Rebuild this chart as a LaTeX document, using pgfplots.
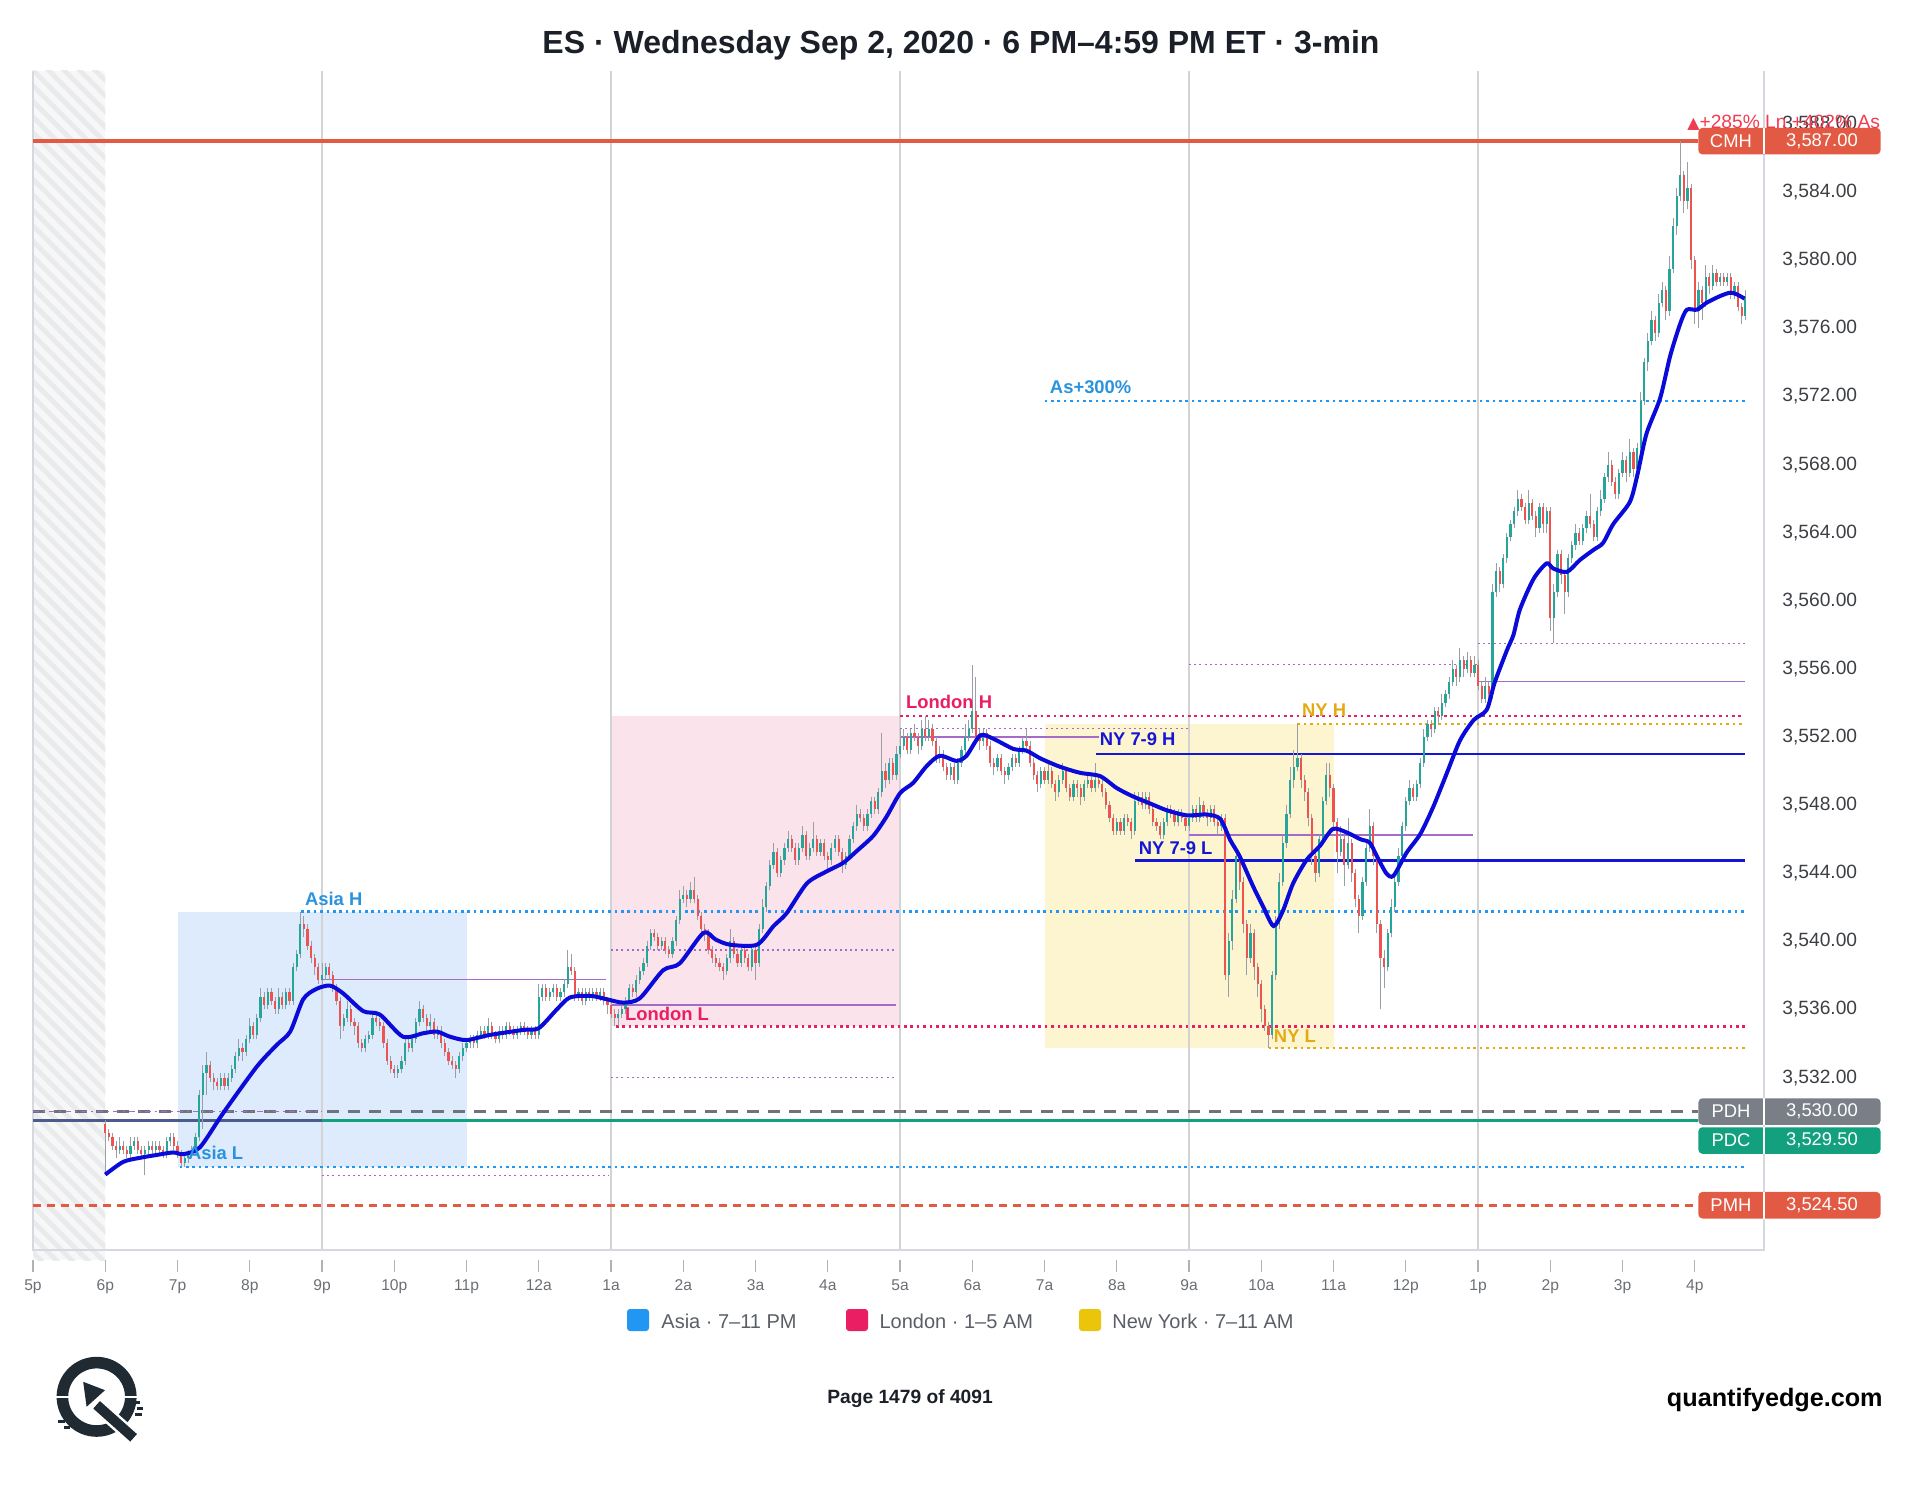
\documentclass[border=0pt]{standalone}
\usepackage{fontspec}
\setmainfont{Liberation Sans}
\newfontfamily\symfont{DejaVu Sans}
\usepackage{pgfplots}
\pgfplotsset{compat=1.18}
\usepackage{pgfplotstable}
\usetikzlibrary{patterns.meta}

\definecolor{titlec}{HTML}{1B1F27}
\definecolor{tickc}{HTML}{6B6F75}
\definecolor{ylabc}{HTML}{3C3F44}
\definecolor{frame}{HTML}{D5D8DE}
\definecolor{gridc}{HTML}{D3D3D3}
\definecolor{asiafill}{HTML}{DDEBFC}
\definecolor{londonfill}{HTML}{FBE3EC}
\definecolor{nyfill}{HTML}{FDF4D0}
\definecolor{asiablue}{HTML}{2196F3}
\definecolor{asiatext}{HTML}{2A93DD}
\definecolor{londonred}{HTML}{E91E63}
\definecolor{nygold}{HTML}{E3AA12}
\definecolor{nyblue}{HTML}{1515D6}
\definecolor{emablue}{HTML}{0B0BD9}
\definecolor{violet}{HTML}{A66BC8}
\definecolor{cmhred}{HTML}{E25A43}
\definecolor{pdhgray}{HTML}{6F737B}
\definecolor{pdhbadge}{HTML}{7A7E86}
\definecolor{pdcgreen}{HTML}{12A07E}
\definecolor{slate}{HTML}{4C5A8C}
\definecolor{upc}{HTML}{26A69A}
\definecolor{downc}{HTML}{EF5350}
\definecolor{wickc}{HTML}{9A9EA6}
\definecolor{alertred}{HTML}{F03C50}
\definecolor{logoc}{HTML}{1F2A33}
\definecolor{legtext}{HTML}{5A5E66}
\definecolor{hatchbg}{HTML}{F7F7F8}
\definecolor{hatchln}{HTML}{E9EAEC}

% 3-minute bars from 6 PM, columns: open high low close
\pgfplotstableread{
o h l c
3529.25 3529.5 3526.25 3528.75
3528.75 3529.0 3528.25 3528.5
3528.5 3528.75 3527.75 3528.0
3528.0 3528.25 3527.25 3527.75
3527.75 3528.5 3527.5 3528.0
3528.0 3528.25 3527.5 3527.75
3527.75 3528.0 3527.25 3527.5
3527.5 3528.5 3527.25 3528.0
3528.0 3528.5 3527.75 3528.25
3528.25 3528.5 3527.5 3527.75
3527.75 3528.0 3527.25 3527.5
3527.5 3528.0 3526.25 3527.75
3527.75 3528.25 3527.5 3528.0
3528.0 3528.25 3527.5 3527.75
3527.75 3528.25 3527.5 3528.0
3528.0 3528.25 3527.5 3527.75
3527.75 3528.0 3527.25 3527.5
3527.5 3528.5 3527.25 3528.25
3528.25 3528.75 3528.0 3528.5
3528.5 3528.75 3527.75 3528.0
3528.0 3528.25 3527.25 3527.5
3527.5 3527.75 3526.75 3527.0
3527.0 3527.5 3526.75 3527.25
3527.25 3527.75 3527.0 3527.5
3527.5 3528.0 3527.25 3527.75
3527.75 3528.75 3527.5 3528.5
3528.5 3531.25 3528.25 3531.0
3531.0 3532.75 3529.0 3532.25
3532.25 3533.5 3531.0 3532.75
3532.75 3533.0 3531.75 3532.0
3532.0 3532.25 3531.25 3531.75
3531.75 3532.0 3531.25 3531.5
3531.5 3532.25 3531.25 3532.0
3532.0 3532.25 3531.25 3531.5
3531.5 3532.25 3531.25 3532.0
3532.0 3532.75 3531.75 3532.5
3532.5 3533.5 3532.25 3533.25
3533.25 3534.25 3533.0 3533.75
3533.75 3534.0 3533.0 3533.5
3533.5 3534.5 3533.25 3534.25
3534.25 3535.5 3534.0 3535.0
3535.0 3535.25 3534.25 3534.5
3534.5 3535.75 3534.25 3535.5
3535.5 3537.25 3535.25 3536.75
3536.75 3537.0 3536.0 3536.25
3536.25 3537.25 3536.0 3537.0
3537.0 3537.25 3536.25 3536.5
3536.5 3536.75 3535.75 3536.0
3536.0 3537.25 3535.75 3536.75
3536.75 3537.0 3536.0 3536.25
3536.25 3537.25 3536.0 3537.0
3537.0 3537.25 3536.25 3536.5
3536.5 3538.75 3536.25 3538.5
3538.5 3539.5 3538.25 3539.25
3539.25 3541.75 3539.0 3541.0
3541.0 3541.5 3540.25 3540.75
3540.75 3541.0 3539.5 3539.75
3539.75 3540.0 3538.75 3539.0
3539.0 3539.25 3538.0 3538.5
3538.5 3538.75 3537.5 3537.75
3537.75 3538.75 3537.5 3538.0
3538.0 3538.75 3537.75 3538.5
3538.5 3538.75 3537.75 3538.0
3538.0 3538.25 3537.0 3537.25
3537.25 3537.5 3536.25 3536.5
3536.5 3536.75 3534.25 3535.0
3535.0 3535.75 3534.75 3535.5
3535.5 3536.5 3535.25 3536.0
3536.0 3536.25 3535.0 3535.25
3535.25 3535.5 3534.5 3535.0
3535.0 3535.25 3533.75 3534.0
3534.0 3534.25 3533.5 3533.75
3533.75 3534.5 3533.5 3534.25
3534.25 3534.75 3534.0 3534.5
3534.5 3535.75 3534.25 3535.5
3535.5 3535.75 3535.0 3535.25
3535.25 3535.5 3534.75 3535.0
3535.0 3535.25 3533.75 3534.0
3534.0 3534.25 3532.75 3533.0
3533.0 3533.25 3532.25 3532.5
3532.5 3532.75 3532.0 3532.25
3532.25 3532.75 3532.0 3532.5
3532.5 3533.25 3532.25 3533.0
3533.0 3534.25 3532.75 3534.0
3534.0 3534.25 3533.5 3533.75
3533.75 3534.5 3533.5 3534.25
3534.25 3535.5 3534.0 3535.25
3535.25 3536.5 3535.0 3536.0
3536.0 3536.25 3535.25 3535.5
3535.5 3535.75 3534.75 3535.0
3535.0 3535.75 3534.75 3535.25
3535.25 3535.5 3534.25 3534.5
3534.5 3535.0 3534.25 3534.75
3534.75 3535.0 3533.75 3534.0
3534.0 3534.25 3533.25 3533.5
3533.5 3533.75 3532.75 3533.0
3533.0 3533.25 3532.5 3532.75
3532.75 3533.0 3532.0 3532.5
3532.5 3533.5 3532.25 3533.25
3533.25 3534.0 3533.0 3533.75
3533.75 3534.25 3533.5 3534.0
3534.0 3534.5 3533.75 3534.25
3534.25 3534.5 3533.75 3534.0
3534.0 3534.75 3533.75 3534.5
3534.5 3535.0 3534.25 3534.75
3534.75 3535.0 3534.25 3534.5
3534.5 3535.5 3534.25 3535.0
3535.0 3535.25 3534.25 3534.5
3534.5 3534.75 3534.0 3534.25
3534.25 3535.0 3534.0 3534.75
3534.75 3535.0 3534.25 3534.5
3534.5 3535.25 3534.25 3535.0
3535.0 3535.25 3534.5 3534.75
3534.75 3535.0 3534.25 3534.5
3534.5 3535.0 3534.25 3534.75
3534.75 3535.25 3534.5 3535.0
3535.0 3535.25 3534.5 3534.75
3534.75 3535.0 3534.25 3534.5
3534.5 3535.0 3534.25 3534.75
3534.75 3535.0 3534.25 3534.5
3534.5 3537.5 3534.25 3536.75
3536.75 3537.5 3536.5 3537.25
3537.25 3537.5 3536.5 3536.75
3536.75 3537.25 3536.5 3537.0
3537.0 3537.5 3536.75 3537.25
3537.25 3537.5 3536.5 3536.75
3536.75 3537.25 3536.5 3537.0
3537.0 3537.75 3536.75 3537.5
3537.5 3539.5 3537.25 3538.5
3538.5 3539.25 3538.0 3538.25
3538.25 3538.5 3536.5 3536.75
3536.75 3537.25 3536.5 3537.0
3537.0 3537.25 3536.25 3536.5
3536.5 3537.25 3536.25 3537.0
3537.0 3537.25 3536.5 3536.75
3536.75 3537.25 3536.5 3537.0
3537.0 3537.25 3536.5 3536.75
3536.75 3537.25 3536.5 3537.0
3537.0 3537.25 3536.25 3536.5
3536.5 3536.75 3535.75 3536.25
3536.25 3536.5 3535.5 3535.75
3535.75 3536.0 3535.0 3535.5
3535.5 3536.0 3535.0 3535.75
3535.75 3536.25 3535.5 3536.0
3536.0 3536.75 3535.75 3536.5
3536.5 3537.5 3536.25 3537.25
3537.25 3537.5 3536.75 3537.0
3537.0 3538.0 3536.75 3537.75
3537.75 3538.5 3537.5 3538.25
3538.25 3539.0 3538.0 3538.75
3538.75 3540.0 3538.5 3539.75
3539.75 3540.75 3539.5 3540.5
3540.5 3540.75 3540.0 3540.25
3540.25 3540.5 3539.5 3539.75
3539.75 3540.25 3539.5 3540.0
3540.0 3540.25 3539.25 3539.5
3539.5 3539.75 3539.0 3539.25
3539.25 3540.25 3539.0 3540.0
3540.0 3541.5 3539.75 3541.25
3541.25 3543.0 3541.0 3542.5
3542.5 3543.25 3542.25 3542.75
3542.75 3543.0 3542.0 3542.5
3542.5 3543.5 3542.25 3543.0
3543.0 3543.75 3542.25 3542.5
3542.5 3542.75 3541.25 3541.5
3541.5 3541.75 3540.5 3540.75
3540.75 3541.0 3540.0 3540.5
3540.5 3540.75 3539.25 3539.5
3539.5 3539.75 3538.75 3539.0
3539.0 3539.25 3538.5 3538.75
3538.75 3539.0 3538.25 3538.5
3538.5 3538.75 3537.75 3538.25
3538.25 3539.25 3538.0 3539.0
3539.0 3540.75 3538.75 3540.0
3540.0 3540.25 3539.0 3539.25
3539.25 3539.5 3538.5 3538.75
3538.75 3539.75 3538.5 3539.5
3539.5 3539.75 3538.75 3539.0
3539.0 3539.25 3538.25 3538.5
3538.5 3539.75 3538.25 3539.5
3539.5 3539.75 3537.75 3538.75
3538.75 3541.0 3538.5 3540.75
3540.75 3542.5 3540.5 3542.0
3542.0 3543.5 3541.75 3543.25
3543.25 3544.75 3543.0 3544.5
3544.5 3545.75 3544.25 3545.25
3545.25 3545.5 3543.75 3544.0
3544.0 3545.0 3543.75 3544.75
3544.75 3545.75 3544.5 3545.5
3545.5 3546.5 3545.25 3546.0
3546.0 3546.25 3545.25 3545.5
3545.5 3545.75 3544.5 3544.75
3544.75 3545.75 3544.5 3545.5
3545.5 3546.75 3545.25 3546.25
3546.25 3546.5 3544.75 3545.0
3545.0 3545.75 3544.75 3545.5
3545.5 3547.0 3545.25 3546.0
3546.0 3546.25 3545.0 3545.25
3545.25 3546.0 3545.0 3545.75
3545.75 3546.0 3544.75 3545.0
3545.0 3545.25 3544.25 3544.75
3544.75 3545.75 3544.5 3545.5
3545.5 3546.25 3545.25 3546.0
3546.0 3546.25 3545.0 3545.25
3545.25 3545.5 3544.0 3544.5
3544.5 3545.25 3544.25 3545.0
3545.0 3546.25 3544.75 3546.0
3546.0 3547.0 3545.75 3546.75
3546.75 3548.0 3546.5 3547.5
3547.5 3547.75 3547.0 3547.25
3547.25 3547.5 3546.5 3546.75
3546.75 3547.75 3546.5 3547.5
3547.5 3548.5 3547.25 3548.25
3548.25 3548.5 3547.5 3547.75
3547.75 3549.0 3547.5 3548.75
3548.75 3552.25 3548.5 3550.0
3550.0 3550.5 3549.0 3549.5
3549.5 3550.75 3549.25 3550.5
3550.5 3550.75 3549.5 3549.75
3549.75 3551.5 3549.5 3551.0
3551.0 3552.5 3550.75 3551.5
3551.5 3552.5 3551.25 3552.0
3552.0 3552.25 3551.0 3551.25
3551.25 3552.5 3551.0 3552.25
3552.25 3552.75 3551.75 3552.0
3552.0 3552.25 3551.0 3551.5
3551.5 3553.0 3551.25 3552.5
3552.5 3553.25 3551.75 3552.0
3552.0 3553.0 3551.75 3552.5
3552.5 3552.75 3551.5 3551.75
3551.75 3552.0 3550.5 3550.75
3550.75 3551.5 3550.5 3551.0
3551.0 3551.25 3550.0 3550.25
3550.25 3550.5 3549.5 3549.75
3549.75 3550.5 3549.5 3550.25
3550.25 3550.5 3549.25 3549.5
3549.5 3550.75 3549.25 3550.5
3550.5 3551.5 3550.25 3551.25
3551.25 3552.75 3551.0 3552.0
3552.0 3553.0 3551.75 3552.5
3552.5 3556.25 3552.25 3553.5
3553.5 3555.5 3551.75 3552.0
3552.0 3552.5 3551.25 3551.75
3551.75 3552.5 3551.5 3552.25
3552.25 3552.5 3551.25 3551.5
3551.5 3551.75 3550.25 3550.5
3550.5 3550.75 3549.75 3550.25
3550.25 3551.0 3550.0 3550.75
3550.75 3551.0 3549.75 3550.0
3550.0 3550.25 3549.25 3549.75
3549.75 3550.5 3549.5 3550.25
3550.25 3551.0 3550.0 3550.75
3550.75 3551.0 3550.25 3550.5
3550.5 3551.5 3550.25 3551.25
3551.25 3552.0 3551.0 3551.75
3551.75 3552.5 3551.25 3551.5
3551.5 3551.75 3550.25 3550.5
3550.5 3550.75 3549.5 3549.75
3549.75 3550.0 3548.75 3549.25
3549.25 3550.25 3549.0 3550.0
3550.0 3550.25 3549.25 3549.5
3549.5 3550.5 3549.25 3550.0
3550.0 3550.25 3549.0 3549.25
3549.25 3549.5 3548.25 3548.75
3548.75 3549.75 3548.5 3549.5
3549.5 3550.5 3549.25 3550.0
3550.0 3550.25 3548.75 3549.0
3549.0 3549.25 3548.25 3548.5
3548.5 3549.5 3548.25 3549.25
3549.25 3549.5 3548.5 3549.0
3549.0 3549.25 3548.0 3548.5
3548.5 3549.5 3548.25 3549.25
3549.25 3549.75 3549.0 3549.5
3549.5 3549.75 3548.75 3549.0
3549.0 3550.5 3548.75 3549.5
3549.5 3549.75 3549.0 3549.25
3549.25 3549.5 3548.5 3548.75
3548.75 3549.0 3547.75 3548.0
3548.0 3548.25 3547.0 3547.25
3547.25 3547.5 3546.25 3546.5
3546.5 3547.25 3546.25 3547.0
3547.0 3547.25 3546.25 3546.5
3546.5 3547.5 3546.25 3547.25
3547.25 3547.5 3546.75 3547.0
3547.0 3547.25 3546.0 3546.5
3546.5 3548.75 3546.25 3548.25
3548.25 3548.75 3548.0 3548.5
3548.5 3548.75 3547.75 3548.0
3548.0 3548.75 3547.75 3548.5
3548.5 3548.75 3547.5 3547.75
3547.75 3548.0 3546.75 3547.0
3547.0 3547.25 3546.5 3546.75
3546.75 3547.0 3546.0 3546.25
3546.25 3547.25 3546.0 3547.0
3547.0 3548.0 3546.75 3547.75
3547.75 3548.0 3547.25 3547.5
3547.5 3547.75 3546.75 3547.0
3547.0 3547.75 3546.75 3547.5
3547.5 3547.75 3547.0 3547.25
3547.25 3547.5 3546.5 3546.75
3546.75 3547.5 3546.5 3547.25
3547.25 3548.0 3547.0 3547.75
3547.75 3548.0 3547.0 3547.25
3547.25 3548.5 3547.0 3548.0
3548.0 3548.25 3547.25 3547.5
3547.5 3547.75 3546.75 3547.25
3547.25 3548.0 3547.0 3547.75
3547.75 3548.0 3546.75 3547.0
3547.0 3547.25 3546.25 3546.75
3546.75 3547.5 3546.5 3547.25
3547.25 3547.5 3537.75 3538.0
3538.0 3540.5 3536.75 3540.0
3540.0 3543.0 3539.5 3542.5
3542.5 3545.5 3542.25 3545.0
3545.0 3545.25 3543.0 3543.5
3543.5 3543.75 3540.5 3541.0
3541.0 3541.25 3538.0 3539.0
3539.0 3541.0 3538.75 3540.5
3540.5 3540.75 3537.75 3538.5
3538.5 3538.75 3536.75 3537.5
3537.5 3537.75 3535.25 3536.0
3536.0 3536.25 3534.75 3535.0
3535.0 3535.25 3533.75 3534.5
3534.5 3538.25 3534.25 3538.0
3538.0 3541.5 3537.75 3541.0
3541.0 3544.0 3540.75 3543.5
3543.5 3546.25 3543.25 3545.75
3545.75 3548.0 3545.5 3547.5
3547.5 3550.25 3547.25 3549.5
3549.5 3551.25 3549.0 3550.25
3550.25 3552.75 3550.0 3550.75
3550.75 3551.0 3549.0 3549.5
3549.5 3549.75 3548.25 3548.75
3548.75 3549.0 3546.75 3547.25
3547.25 3547.5 3544.5 3545.0
3545.0 3545.25 3543.5 3544.0
3544.0 3546.25 3543.75 3546.0
3546.0 3548.5 3545.75 3548.25
3548.25 3550.5 3548.0 3549.75
3549.75 3550.5 3548.5 3549.0
3549.0 3549.25 3546.5 3547.0
3547.0 3547.25 3544.0 3545.25
3545.25 3546.75 3545.0 3546.0
3546.0 3546.25 3543.25 3544.5
3544.5 3547.25 3544.25 3545.75
3545.75 3546.0 3543.5 3544.0
3544.0 3544.25 3542.0 3542.5
3542.5 3542.75 3540.5 3541.5
3541.5 3543.75 3541.25 3543.5
3543.5 3545.75 3543.25 3545.5
3545.5 3547.75 3545.25 3546.75
3546.75 3547.0 3544.5 3545.0
3545.0 3545.25 3540.5 3541.0
3541.0 3541.25 3536.0 3539.0
3539.0 3539.5 3537.25 3538.5
3538.5 3540.75 3538.25 3540.5
3540.5 3542.5 3540.25 3542.0
3542.0 3543.75 3541.75 3543.5
3543.5 3545.5 3543.25 3545.0
3545.0 3547.0 3544.75 3546.75
3546.75 3548.5 3546.5 3548.25
3548.25 3549.5 3548.0 3549.0
3549.0 3549.25 3548.25 3548.5
3548.5 3549.5 3548.25 3549.25
3549.25 3550.75 3549.0 3550.5
3550.5 3552.5 3550.25 3552.0
3552.0 3553.0 3551.75 3552.75
3552.75 3553.0 3552.0 3552.5
3552.5 3553.75 3552.25 3553.5
3553.5 3553.75 3552.75 3553.25
3553.25 3554.5 3553.0 3554.0
3554.0 3554.75 3553.75 3554.5
3554.5 3555.5 3554.25 3555.25
3555.25 3556.5 3555.0 3556.0
3556.0 3556.25 3555.0 3555.5
3555.5 3557.25 3555.25 3556.5
3556.5 3556.75 3555.5 3556.0
3556.0 3557.0 3555.75 3556.5
3556.5 3556.75 3555.5 3555.75
3555.75 3556.75 3555.5 3556.25
3556.25 3556.5 3554.75 3555.0
3555.0 3555.25 3554.0 3554.25
3554.25 3555.5 3554.0 3555.0
3555.0 3555.25 3553.75 3554.5
3554.5 3561.0 3554.25 3560.5
3560.5 3562.25 3560.25 3561.75
3561.75 3562.0 3560.5 3561.0
3561.0 3562.75 3560.75 3562.5
3562.5 3564.0 3562.25 3563.75
3563.75 3564.75 3563.5 3564.5
3564.5 3565.5 3564.25 3565.25
3565.25 3566.5 3565.0 3566.0
3566.0 3566.25 3565.25 3565.5
3565.5 3565.75 3564.5 3564.75
3564.75 3566.5 3564.5 3565.75
3565.75 3566.0 3564.75 3565.0
3565.0 3565.25 3563.75 3564.25
3564.25 3565.75 3564.0 3565.5
3565.5 3565.75 3564.0 3564.5
3564.5 3565.5 3564.0 3565.25
3565.25 3565.5 3558.25 3559.0
3559.0 3561.0 3557.5 3560.5
3560.5 3563.0 3560.25 3562.75
3562.75 3563.0 3561.0 3561.5
3561.5 3561.75 3559.25 3560.5
3560.5 3562.75 3560.25 3562.5
3562.5 3563.5 3562.25 3563.25
3563.25 3564.5 3563.0 3564.0
3564.0 3564.25 3563.25 3563.5
3563.5 3564.5 3563.25 3564.25
3564.25 3565.25 3564.0 3565.0
3565.0 3566.25 3564.25 3564.5
3564.5 3564.75 3563.5 3563.75
3563.75 3565.5 3563.5 3565.25
3565.25 3566.5 3565.0 3566.0
3566.0 3567.5 3565.75 3567.25
3567.25 3568.75 3567.0 3568.0
3568.0 3568.25 3566.75 3567.0
3567.0 3567.25 3566.0 3566.25
3566.25 3567.75 3566.0 3567.5
3567.5 3568.75 3567.25 3568.25
3568.25 3568.5 3567.0 3567.5
3567.5 3569.5 3567.25 3568.75
3568.75 3569.0 3567.25 3567.75
3567.75 3569.25 3567.5 3569.0
3569.0 3572.25 3568.75 3571.75
3571.75 3574.25 3571.5 3574.0
3574.0 3575.75 3573.5 3575.25
3575.25 3577.0 3575.0 3576.5
3576.5 3576.75 3575.25 3575.75
3575.75 3578.0 3575.5 3577.5
3577.5 3578.75 3577.25 3578.25
3578.25 3578.5 3576.5 3577.0
3577.0 3580.25 3576.75 3579.5
3579.5 3582.5 3579.25 3582.0
3582.0 3584.25 3581.5 3583.75
3583.75 3587.0 3583.5 3585.0
3585.0 3585.25 3582.75 3583.5
3583.5 3585.75 3583.0 3584.25
3584.25 3584.5 3579.5 3580.0
3580.0 3580.25 3576.25 3577.0
3577.0 3578.75 3576.0 3578.25
3578.25 3578.5 3576.5 3577.5
3577.5 3579.75 3577.25 3579.0
3579.0 3579.25 3578.0 3578.5
3578.5 3579.75 3578.25 3579.25
3579.25 3579.5 3578.5 3578.75
3578.75 3579.25 3578.5 3579.0
3579.0 3579.25 3578.5 3578.75
3578.75 3579.25 3578.5 3579.0
3579.0 3579.25 3577.75 3578.0
3578.0 3578.75 3577.75 3578.5
3578.5 3578.75 3577.0 3577.25
3577.25 3577.5 3576.25 3576.75
3576.75 3578.25 3576.5 3577.75
}\candles

% price badge on the right edge: centre y, tag, value, colour
\newcommand{\badge}[4]{%
  \fill[#4, rounded corners=2pt] (23.05,#1-0.78) rectangle (25.57,#1+0.78);
  \draw[white, line width=0.9pt] (23.958,#1-0.78) -- (23.958,#1+0.78);
  \node[white, inner sep=0pt, font=\fontsize{9.2}{10}\selectfont] at (23.5,#1) {#2};
  \node[white, inner sep=0pt, font=\fontsize{9.2}{10}\selectfont] at (24.76,#1) {#3};
}

\begin{document}
\begin{tikzpicture}
\useasboundingbox (0,0) rectangle (960pt,742pt);

\begin{axis}[
  at={(16.5pt,117pt)}, anchor=south west,
  width=865.5pt, height=589.5pt, scale only axis,
  xmin=0, xmax=23.958, ymin=3521.87, ymax=3591.12,
  clip=false,
  axis line style={draw=none},
  major tick length=0pt,
  tick style={draw=none},
  xtick={0,...,23},
  xticklabels={5p,6p,7p,8p,9p,10p,11p,12a,1a,2a,3a,4a,5a,6a,7a,8a,9a,10a,11a,12p,1p,2p,3p,4p},
  xticklabel style={font=\fontsize{7.8}{9}\selectfont, text=tickc, anchor=base, inner sep=0pt, yshift=-20.3pt},
  ytick={3532,3536,...,3588},
  yticklabels={{3,532.00},{3,536.00},{3,540.00},{3,544.00},{3,548.00},{3,552.00},{3,556.00},{3,560.00},{3,564.00},{3,568.00},{3,572.00},{3,576.00},{3,580.00},{3,584.00},{3,588.00}},
  yticklabel pos=right,
  yticklabel style={font=\fontsize{9.6}{11}\selectfont, text=ylabc, anchor=west, inner sep=0pt, xshift=9pt},
  candle/.style={forget plot, only marks, mark size=0pt, mark options={draw=none, fill=none}},
]

% closed-market hatch before the session opens
\fill[hatchbg] (0,3521.28) rectangle (1,3591.12);
\fill[pattern={Lines[angle=-45, distance=5.5pt, line width=2.4pt]}, pattern color=hatchln] (0,3521.28) rectangle (1,3591.12);

% session boxes
\fill[asiafill] (2,3526.75) rectangle (6,3541.75);
\fill[londonfill] (8,3535.0) rectangle (12,3553.25);
\fill[nyfill] (14,3533.75) rectangle (18,3552.75);

% frame and grid
\pgfplotsinvokeforeach{4,8,12,16,20}{\draw[gridc, line width=0.6pt] (#1,3521.87) -- (#1,3591.12);}
\draw[frame, line width=0.8pt] (0,3591.12) -- (0,3521.87) -- (23.958,3521.87) -- (23.958,3591.12);

% prior-day and prior-month levels
\draw[cmhred, line width=1.8pt] (0,3587) -- (23.05,3587);
\draw[pdhgray, line width=1.5pt, dash pattern=on 6pt off 4.5pt] (0,3530) -- (23.05,3530);
\draw[pdcgreen, line width=1.4pt] (0,3529.5) -- (23.05,3529.5);
\draw[slate, line width=1.4pt] (0,3529.5) -- (4,3529.5);
\draw[violet, line width=0.8pt, dash pattern=on 3pt off 2pt on 1pt off 2pt] (0,3530) -- (4,3530);
\draw[cmhred, line width=1.5pt, dash pattern=on 4pt off 3pt] (0,3524.5) -- (23.05,3524.5);

% session range levels
\tikzset{dots/.style={line width=1.1pt, dash pattern=on 1.3pt off 1.9pt}}
\draw[asiablue, dots] (3.71,3541.75) -- (23.69,3541.75);
\draw[asiablue, dots] (2.03,3526.75) -- (23.69,3526.75);
\draw[asiablue, dots] (14.0,3571.75) -- (23.69,3571.75);
\draw[londonred, dots] (12.0,3553.25) -- (23.69,3553.25);
\draw[londonred, dots] (8.07,3535.0) -- (23.69,3535.0);
\draw[nygold, dots] (17.5,3552.75) -- (23.69,3552.75);
\draw[nygold, dots] (17.1,3533.75) -- (23.69,3533.75);
\draw[nyblue, line width=1.3pt] (14.71,3551.0) -- (23.69,3551.0);
\draw[nyblue, line width=1.3pt] (15.25,3544.75) -- (23.69,3544.75);

% mid and extension levels
\tikzset{vdots/.style={violet, line width=0.8pt, dash pattern=on 1pt off 1.6pt}}
\draw[violet, line width=0.8pt] (4.0,3537.75) -- (7.93,3537.75);
\draw[vdots] (4.0,3526.25) -- (7.97,3526.25);
\draw[violet, line width=0.8pt] (8.0,3536.25) -- (11.95,3536.25);
\draw[vdots] (8.0,3539.5) -- (11.95,3539.5);
\draw[vdots] (8.0,3532.0) -- (11.95,3532.0);
\draw[vdots] (12.0,3552.5) -- (16.0,3552.5);
\draw[violet, line width=0.8pt] (12.0,3552.0) -- (14.76,3552.0);
\draw[violet, line width=0.8pt] (16.0,3546.25) -- (19.93,3546.25);
\draw[vdots] (16.0,3556.25) -- (20.0,3556.25);
\draw[vdots] (20.0,3557.5) -- (23.69,3557.5);
\draw[violet, line width=0.8pt] (20.0,3555.25) -- (23.69,3555.25);

% candles: wicks, then rising and falling bodies
\addplot[candle,
  error bars/.cd, y dir=plus, y explicit, error mark=none,
  error bar style={line width=0.5pt, color=wickc}]
  table[x expr=\coordindex*0.05+1, y=l, y error plus expr={\thisrow{h}-\thisrow{l}}] {\candles};
\addplot[candle,
  error bars/.cd, y dir=plus, y explicit, error mark=none,
  error bar style={line width=1.1pt, color=upc}]
  table[x expr=\coordindex*0.05+1, y=o, y error plus expr={max(\thisrow{c}-\thisrow{o},0)}] {\candles};
\addplot[candle,
  error bars/.cd, y dir=minus, y explicit, error mark=none,
  error bar style={line width=1.1pt, color=downc}]
  table[x expr=\coordindex*0.05+1, y=o, y error minus expr={max(\thisrow{o}-\thisrow{c},0)}] {\candles};

% moving average
\addplot[emablue, line width=2pt, smooth, tension=0.45] coordinates {
(1.0,3526.3) (1.25,3527.05) (1.5,3527.3) (1.71,3527.45) (1.94,3527.6) (2.08,3527.5)
(2.31,3527.9) (2.63,3529.9) (3.09,3532.6) (3.37,3533.9) (3.56,3534.7) (3.74,3536.6)
(3.92,3537.2) (4.11,3537.4) (4.29,3536.95) (4.57,3535.9) (4.8,3535.7) (5.12,3534.4)
(5.4,3534.6) (5.59,3534.7) (5.77,3534.4) (6.0,3534.2) (6.32,3534.5) (6.79,3534.8)
(7.0,3534.9) (7.25,3536.0) (7.43,3536.7) (7.71,3536.8) (7.94,3536.6) (8.17,3536.4)
(8.4,3536.66) (8.72,3538.3) (8.95,3538.7) (9.28,3540.5) (9.45,3540.1) (9.65,3539.8)
(10.02,3539.8) (10.25,3540.9) (10.43,3541.65) (10.71,3543.4) (10.98,3544.1) (11.21,3544.6)
(11.4,3545.3) (11.63,3546.2) (11.81,3547.3) (12.0,3548.7) (12.18,3549.3) (12.37,3550.3)
(12.55,3550.9) (12.78,3550.6) (12.92,3550.9) (13.11,3552.1) (13.29,3551.9) (13.57,3551.3)
(13.75,3551.2) (13.94,3550.75) (14.21,3550.26) (14.49,3549.9) (14.77,3549.7) (15.0,3549.0)
(15.23,3548.5) (15.46,3548.1) (15.69,3547.7) (15.97,3547.4) (16.24,3547.45) (16.43,3547.2)
(16.57,3545.95) (16.7,3545.0) (16.89,3543.2) (17.03,3542.0) (17.17,3540.9) (17.3,3541.8)
(17.44,3543.4) (17.63,3544.8) (17.81,3545.6) (17.99,3546.6) (18.18,3546.4) (18.37,3546.0)
(18.5,3545.8) (18.6,3545.0) (18.73,3544.0) (18.83,3543.85) (19.01,3545.2) (19.2,3546.3)
(19.38,3547.9) (19.57,3549.9) (19.75,3551.8) (19.94,3553.0) (20.12,3553.6) (20.23,3555.2)
(20.4,3557.1) (20.49,3558.0) (20.58,3559.5) (20.77,3561.3) (20.95,3562.2) (21.04,3561.9)
(21.23,3561.7) (21.41,3562.4) (21.6,3563.0) (21.73,3563.4) (21.87,3564.5) (22.1,3565.8)
(22.2,3567.3) (22.33,3569.8) (22.52,3571.9) (22.66,3574.4) (22.8,3576.3) (22.89,3577.1)
(23.03,3577.1) (23.16,3577.5) (23.35,3577.9) (23.49,3578.1) (23.58,3578.0) (23.69,3577.75)
};

% level tags
\tikzset{tag/.style={anchor=west, inner sep=0pt, font=\bfseries\fontsize{9.2}{10}\selectfont}}
\node[tag, text=asiatext] at (3.76,3542.5) {Asia H};
\node[tag, text=asiatext] at (2.14,3527.6) {Asia L};
\node[tag, text=asiatext] at (14.07,3572.55) {As+300\%};
\node[tag, text=londonred] at (12.08,3554.08) {London H};
\node[tag, text=londonred] at (8.19,3535.75) {London L};
\node[tag, text=nygold] at (17.56,3553.58) {NY H};
\node[tag, text=nygold] at (17.17,3534.45) {NY L};
\node[tag, text=nyblue] at (14.76,3551.85) {NY 7-9 H};
\node[tag, text=nyblue] at (15.3,3545.5) {NY 7-9 L};

% right-edge price badges
\badge{3587.0}{CMH}{3,587.00}{cmhred}
\badge{3530.0}{PDH}{3,530.00}{pdhbadge}
\badge{3528.3}{PDC}{3,529.50}{pdcgreen}
\badge{3524.5}{PMH}{3,524.50}{cmhred}
\node[anchor=west, inner sep=0pt, text=alertred, font=\fontsize{9.6}{11}\selectfont] at (22.89,3588.1) {{\symfont\fontsize{8}{9}\selectfont ▲}+285\% Ln +402\% As};
\end{axis}

% hour tick marks under the time axis
\foreach \i in {0,...,23} \draw[black!30, line width=0.6pt] ({16.53pt+36.125pt*\i},112pt) -- ++(0,-6pt);

% title
\node[anchor=base, inner sep=0pt, text=titlec, font=\bfseries\fontsize{16}{19}\selectfont] at (480.5pt,715pt) {ES · Wednesday Sep 2, 2020 · 6 PM–4:59 PM ET · 3-min};

% session key
\tikzset{key/.style={anchor=base west, inner sep=0pt, text=legtext, font=\fontsize{10}{12}\selectfont}}
\fill[asiablue, rounded corners=1.5pt] (313.5pt,76.5pt) rectangle ++(11pt,11pt);
\node[key] at (330.5pt,77.8pt) {Asia · 7–11 PM};
\fill[londonred, rounded corners=1.5pt] (423pt,76.5pt) rectangle ++(11pt,11pt);
\node[key] at (439.6pt,77.8pt) {London · 1–5 AM};
\fill[nygold!70!yellow, rounded corners=1.5pt] (539.5pt,76.5pt) rectangle ++(11pt,11pt);
\node[key] at (556pt,77.8pt) {New York · 7–11 AM};

% footer
\node[anchor=base, inner sep=0pt, text=titlec, font=\bfseries\fontsize{9.6}{11}\selectfont] at (455pt,40.5pt) {Page 1479 of 4091};
\node[anchor=base east, inner sep=0pt, text=black, font=\bfseries\fontsize{12.6}{15}\selectfont] at (941.5pt,39pt) {quantifyedge.com};

% logo mark
\begin{scope}[shift={(48.3pt,43.6pt)}, x=1pt, y=1pt]
  \draw[logoc, line width=5.8pt] (0,0) circle (17.1);
  \fill[white] (-21.5,-0.6) rectangle (-12.5,0.6);
  \fill[white] (12.5,-0.6) rectangle (21.5,0.6);
  \fill[logoc] (-6.7,7.5) -- (4.2,3.3) -- (-5,-5) -- cycle;
  \draw[white, line width=7.5pt] (0.5,-4.5) -- (18.5,-20.5);
  \draw[logoc, line width=5pt] (0,-4) -- (18.5,-20.5);
  \draw[logoc, line width=1.4pt] (19.2,-3) -- (21.7,-3) (20,-5.8) -- (23.3,-5.8) (19.2,-8.7) -- (22.5,-8.7)
        (-19.2,-12.2) -- (-15.8,-12.2) (-16.3,-15.3) -- (-13.3,-15.3);
\end{scope}
\end{tikzpicture}
\end{document}
